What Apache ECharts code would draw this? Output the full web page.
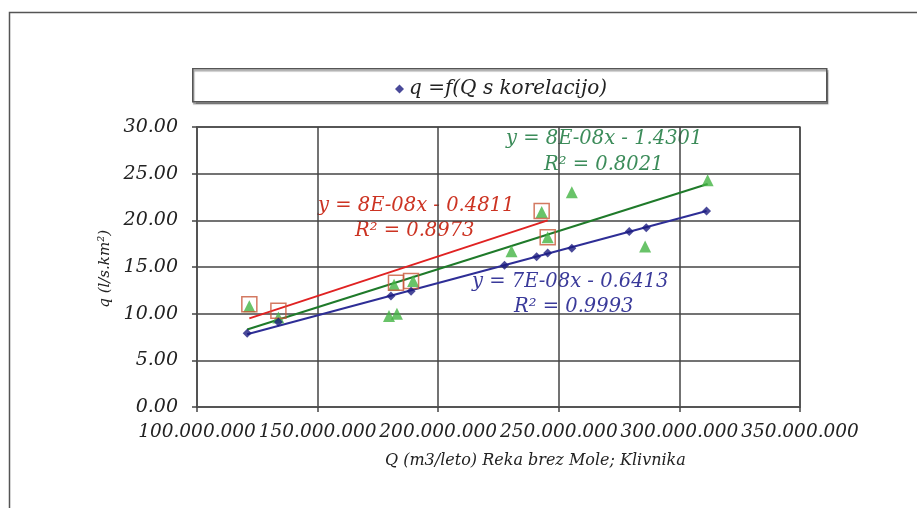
<!DOCTYPE html>
<html><head><meta charset="utf-8">
<script src="https://cdn.jsdelivr.net/npm/echarts@6/dist/echarts.min.js"></script>
<style>html,body{margin:0;padding:0;background:#fff}#c{width:917px;height:508px}</style>
</head><body><div id="c"></div><script>
// Specific runoff q against yearly discharge Q, with linear trend lines
const xTicks = [100e6, 150e6, 200e6, 250e6, 300e6, 350e6];
const yTicks = [0, 5, 10, 15, 20, 25, 30];

// q = f(Q s korelacijo) — blue diamonds
const blueQ = [120.8e6, 133.75e6, 180.4e6, 188.75e6, 227.5e6, 240.8e6, 245.4e6, 255.4e6, 279.2e6, 286.25e6, 311.25e6];
const blueV = [7.9, 9.1, 11.9, 12.4, 15.2, 16.1, 16.5, 17.0, 18.8, 19.2, 21.0];

// green triangles
const greenQ = [121.7e6, 133.75e6, 179.6e6, 182.9e6, 181.7e6, 189.6e6, 230.4e6, 242.9e6, 245.4e6, 255.4e6, 285.8e6, 311.7e6];
const greenV = [10.8, 9.6, 9.75, 10.0, 13.1, 13.5, 16.7, 20.9, 18.2, 23.0, 17.2, 24.3];

// red squares
const redQ = [121.7e6, 133.75e6, 182.5e6, 188.75e6, 242.9e6, 245.4e6];
const redV = [11.0, 10.3, 13.3, 13.5, 21.0, 18.2];

// linear trend lines (start / end)
const trendBlueQ = [120.8e6, 311.25e6], trendBlueV = [7.8, 21.0];
const trendGreenQ = [120.8e6, 311.7e6], trendGreenV = [8.3, 23.9];
const trendRedQ = [121.7e6, 245.4e6], trendRedV = [9.5, 20.0];

const eqGreen = ['y = 8E-08x - 1.4301', 'R² = 0.8021'];
const eqRed = ['y = 8E-08x - 0.4811', 'R² = 0.8973'];
const eqBlue = ['y = 7E-08x - 0.6413', 'R² = 0.9993'];

const legendName = 'q =f(Q s korelacijo)';
const xTitle = 'Q (m3/leto) Reka brez Mole; Klivnika';
const yTitle = 'q (l/s.km²)';

const pairs = (a, b) => a.map((v, i) => [v, b[i]]);
const fmtQ = v => Math.round(v).toString().replace(/\B(?=(\d{3})+(?!\d))/g, '.');
const serif = 'DejaVu Serif';
const txt = (s, x, y, color, size) => ({
  type: 'text', left: x, top: y,
  style: { text: s, fill: color, font: 'italic ' + size + 'px "' + serif + '"' }
});

const chart = echarts.init(document.getElementById('c'), null, { renderer: 'canvas' });
chart.setOption({
  animation: false,
  backgroundColor: '#fff',
  grid: { left: 197, right: 117, top: 127, bottom: 101, show: true, borderColor: '#666', borderWidth: 1.5 },
  legend: {
    data: [legendName], left: 390, top: 74, icon: 'diamond', itemWidth: 9, itemHeight: 9, itemGap: 4,
    textStyle: { fontFamily: serif, fontStyle: 'italic', fontSize: 20, color: '#222' }
  },
  xAxis: {
    type: 'value', min: xTicks[0], max: xTicks[xTicks.length - 1], interval: 50e6,
    axisLine: { lineStyle: { color: '#555', width: 1.5 } },
    axisTick: { show: true, length: 5, lineStyle: { color: '#444', width: 1.5 } },
    splitLine: { lineStyle: { color: '#444', width: 1.5 } },
    axisLabel: { formatter: fmtQ, fontFamily: serif, fontStyle: 'italic', fontSize: 18.5, color: '#222', margin: 16,
      hideOverlap: false, showMinLabel: true, showMaxLabel: true }
  },
  yAxis: {
    type: 'value', min: 0, max: 30, interval: 5,
    axisLine: { show: true, lineStyle: { color: '#555', width: 1.5 } },
    axisTick: { show: true, length: 5, lineStyle: { color: '#444', width: 1.5 } },
    splitLine: { lineStyle: { color: '#444', width: 1.5 } },
    axisLabel: { formatter: v => v.toFixed(2), fontFamily: serif, fontStyle: 'italic', fontSize: 19, color: '#222', margin: 19,
      showMinLabel: true, showMaxLabel: true }
  },
  graphic: [
    { type: 'rect', left: 7, top: 10, shape: { width: 1000, height: 600 }, style: { fill: 'none', stroke: '#555', lineWidth: 1.5 }, silent: true },
    { type: 'rect', left: 192, top: 68, shape: { width: 634, height: 33 },
      style: { fill: '#fff', stroke: '#555', lineWidth: 1.5, shadowColor: 'rgba(0,0,0,0.35)', shadowOffsetY: 2, shadowOffsetX: 1, shadowBlur: 1 }, z: -1 },
    txt(xTitle, 385, 453, '#222', 16),
    { type: 'text', left: 98, top: 230, rotation: Math.PI / 2,
      style: { text: yTitle, fill: '#222', font: 'italic 15px "' + serif + '"' } },
    txt(eqGreen[0], 506, 129, '#3c8c5a', 19.5),
    txt(eqGreen[1], 544, 155, '#3c8c5a', 19.5),
    txt(eqRed[0], 318, 196, '#cc3322', 19.5),
    txt(eqRed[1], 355, 221, '#cc3322', 19.5),
    txt(eqBlue[0], 472, 272, '#3a3a9a', 19.5),
    txt(eqBlue[1], 514, 297, '#3a3a9a', 19.5)
  ],
  series: [
    { type: 'line', data: pairs(trendRedQ, trendRedV), showSymbol: false, lineStyle: { color: '#e02222', width: 2 }, z: 3 },
    { type: 'line', data: pairs(trendGreenQ, trendGreenV), showSymbol: false, lineStyle: { color: '#1f7a2a', width: 2 }, z: 3 },
    { type: 'line', data: pairs(trendBlueQ, trendBlueV), showSymbol: false, lineStyle: { color: '#2e2e96', width: 2 }, z: 3 },
    { name: legendName, type: 'scatter', data: pairs(blueQ, blueV), symbol: 'diamond', symbolSize: 9, itemStyle: { color: '#1c1c80' }, z: 5 },
    { type: 'scatter', data: pairs(greenQ, greenV), symbol: 'triangle', symbolSize: 12, itemStyle: { color: '#44b444' }, z: 4 },
    { type: 'scatter', data: pairs(redQ, redV), symbol: 'rect', symbolSize: 15, itemStyle: { color: 'rgba(0,0,0,0)', borderColor: '#c8583a', borderWidth: 1.5 }, z: 4 }
  ]
});
</script></body></html>
